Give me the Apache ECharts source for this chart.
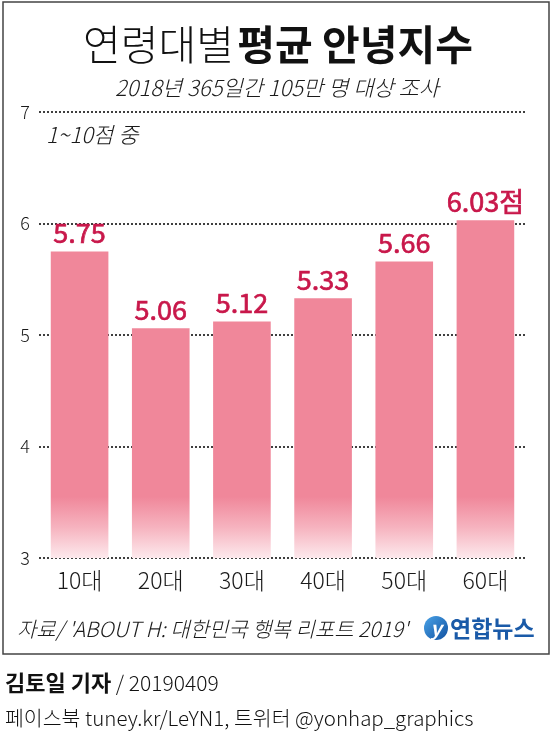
<!DOCTYPE html>
<html>
<head>
<meta charset="utf-8">
<script src="https://cdn.jsdelivr.net/npm/echarts@6/dist/echarts.min.js"></script>
<style>
html,body{margin:0;padding:0;background:#fff;}
#c{width:553px;height:735px;}
</style>
</head>
<body>
<div id="c"></div>
<script>
const categories = ['10대', '20대', '30대', '40대', '50대', '60대'];
const values = [5.75, 5.06, 5.12, 5.33, 5.66, 6.03];
const yMin = 3, yMax = 7, yStep = 1;
const unitSuffix = '점';
const titleLight = '연령대별';
const titleBold = '평균 안녕지수';
const subtitle = '2018년 365일간 105만 명 대상 조사';
const scaleNote = '1~10점 중';
const sourceText = "자료/ 'ABOUT H: 대한민국 행복 리포트 2019'";
const logoText = '연합뉴스';
const reporter = '김토일 기자';
const dateText = ' / 20190409';
const socialText = '페이스북 tuney.kr/LeYN1, 트위터 @yonhap_graphics';

const FONT = '"Noto Sans CJK KR", "Noto Sans", sans-serif';
const fadeFrom = 3.55;
const barTop = '#f0879a';
const barBottom = '#fde9ed';

const chart = echarts.init(document.getElementById('c'), null, {renderer: 'canvas'});

const barData = values.map(function (v) {
  const off = Math.max(0, Math.min(1, (v - fadeFrom) / (v - yMin)));
  return {
    value: v,
    itemStyle: {
      color: new echarts.graphic.LinearGradient(0, 0, 0, 1, [
        {offset: 0, color: barTop},
        {offset: off, color: barTop},
        {offset: off + (1 - off) * 0.5, color: '#f6b3bf'},
        {offset: 1, color: barBottom}
      ])
    }
  };
});

const option = {
  animation: false,
  backgroundColor: '#fff',
  grid: {left: 39, right: 27, top: 112, bottom: 177, containLabel: false},
  xAxis: {
    type: 'category',
    data: categories,
    axisLine: {show: false},
    axisTick: {show: false},
    axisLabel: {fontFamily: FONT, fontSize: 23, color: '#1a1a1a', margin: 11, fontWeight: 300}
  },
  yAxis: {
    type: 'value',
    min: yMin, max: yMax, interval: yStep,
    axisLine: {show: false},
    axisTick: {show: false},
    axisLabel: {fontFamily: FONT, fontSize: 18, color: '#1a1a1a', margin: 9, fontWeight: 300},
    splitLine: {show: true, lineStyle: {color: '#000', type: [2, 2], width: 1.5}}
  },
  series: [{
    type: 'bar',
    data: barData,
    barCategoryGap: '29%',
    label: {
      show: true,
      position: 'top',
      distance: 5,
      fontFamily: FONT,
      fontSize: 27,
      fontWeight: 'normal',
      color: '#c8174a',
      textBorderColor: '#c8174a',
      textBorderWidth: 0.7,
      formatter: function (p) {
        return p.dataIndex === values.length - 1 ? p.value.toFixed(2) + unitSuffix : p.value.toFixed(2);
      }
    }
  }],
  graphic: [
    {type: 'rect', shape: {x: 3, y: 2, width: 546, height: 652}, style: {fill: 'none', stroke: '#444', lineWidth: 1.5}, z: 10},
    {type: 'text', x: 278, y: 44, style: {
      text: '{a|' + titleLight + '} {b|' + titleBold + '}',
      align: 'center', verticalAlign: 'middle',
      rich: {
        a: {fontFamily: FONT, fontSize: 41, fontWeight: 300, fill: '#111'},
        b: {fontFamily: FONT, fontSize: 41, fontWeight: 'bold', fill: '#111'}
      }
    }},
    {type: 'text', x: 277, y: 88, style: {text: subtitle, align: 'center', verticalAlign: 'middle', font: 'italic 300 22px ' + FONT, fill: '#1a1a1a'}},
    {type: 'text', x: 46, y: 135, style: {text: scaleNote, align: 'left', verticalAlign: 'middle', font: 'italic 300 22px ' + FONT, fill: '#1a1a1a'}},
    {type: 'text', x: 17, y: 629, style: {text: sourceText, align: 'left', verticalAlign: 'middle', font: 'italic 300 21px ' + FONT, fill: '#1a1a1a'}},
    {type: 'circle', shape: {cx: 436, cy: 628, r: 12}, style: {fill: new echarts.graphic.LinearGradient(0, 0, 1, 1, [{offset: 0, color: '#4aa3e8'}, {offset: 1, color: '#1050a0'}])}},
    {type: 'text', x: 436, y: 628, style: {text: 'y', align: 'center', verticalAlign: 'middle', font: 'italic bold 20px ' + FONT, fill: '#fff'}},
    {type: 'text', x: 450, y: 628, style: {text: logoText, align: 'left', verticalAlign: 'middle', font: 'bold 23px ' + FONT, fill: '#1a5aa8'}},
    {type: 'text', x: 5, y: 683, style: {
      text: '{a|' + reporter + '}{b|' + dateText + '}',
      align: 'left', verticalAlign: 'middle',
      rich: {
        a: {fontFamily: FONT, fontSize: 22, fontWeight: 'bold', fill: '#111'},
        b: {fontFamily: FONT, fontSize: 21, fontWeight: 300, fill: '#111'}
      }
    }},
    {type: 'text', x: 5, y: 718, style: {text: socialText, align: 'left', verticalAlign: 'middle', font: '300 20.5px ' + FONT, fill: '#111'}}
  ]
};
chart.setOption(option);
</script>
</body>
</html>
